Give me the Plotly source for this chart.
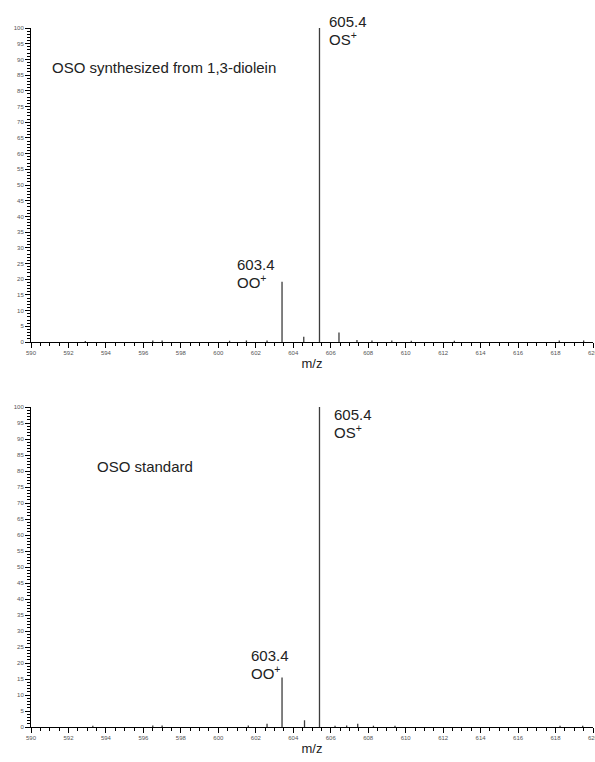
import plotly.graph_objects as go

# ---- data ----
top_mz = [592.9, 596.5, 597.0, 600.6, 601.5, 602.6, 603.4, 604.56, 605.4, 606.44,
          607.4, 608.2, 609.26, 610.3, 612.6, 618.2, 619.5]
top_int = [0.3, 0.5, 0.5, 0.4, 0.5, 0.5, 19.2, 1.7, 100, 3.0,
           0.6, 0.5, 0.5, 0.4, 0.4, 0.5, 0.5]

bot_mz = [593.3, 596.5, 597.0, 601.6, 602.6, 603.4, 604.6, 605.4, 606.23, 606.85,
          607.44, 608.28, 609.43, 618.24, 619.45]
bot_int = [0.4, 0.5, 0.5, 0.5, 1.0, 15.5, 2.1, 100, 0.4, 0.5,
           1.0, 0.4, 0.4, 0.4, 0.4]

x_ticks = list(range(590, 621, 2))
y_ticks = list(range(0, 101, 5))
titles = ["OSO synthesized from 1,3-diolein", "OSO standard"]


def stems(xs, ys):
    X, Y = [], []
    for x, y in zip(xs, ys):
        X += [x, x, None]
        Y += [0, y, None]
    return X, Y


fig = go.Figure()
tx, ty = stems(top_mz, top_int)
bx, by = stems(bot_mz, bot_int)
fig.add_trace(go.Scatter(x=tx, y=ty, mode="lines", line=dict(color="#3c3c3c", width=1.3),
                         xaxis="x", yaxis="y", showlegend=False, hoverinfo="skip"))
fig.add_trace(go.Scatter(x=bx, y=by, mode="lines", line=dict(color="#3c3c3c", width=1.3),
                         xaxis="x2", yaxis="y2", showlegend=False, hoverinfo="skip"))

tickfont = dict(family="Liberation Sans, Arial, sans-serif", size=6, color="#555")
xcommon = dict(range=[590, 620], tickvals=x_ticks, showline=True, linecolor="black",
               linewidth=1, ticks="outside", ticklen=5, tickwidth=1, tickcolor="black",
               showgrid=False, zeroline=False, tickfont=tickfont,
               ticklabeloverflow="allow", automargin=False,
               minor=dict(dtick=0.5, tick0=590, ticks="outside", ticklen=3, tickcolor="black",
                          showgrid=False),
               title=dict(text="m/z", font=dict(family="Liberation Sans, Arial, sans-serif",
                                                size=13, color="#222"), standoff=3))
ycommon = dict(range=[0, 100], tickvals=y_ticks, showline=True, linecolor="black",
               linewidth=1, ticks="outside", ticklen=5, tickwidth=1, tickcolor="black",
               showgrid=False, zeroline=False, tickfont=tickfont, automargin=False,
               minor=dict(dtick=1, tick0=0, ticks="outside", ticklen=3, tickcolor="black",
                          showgrid=False))

H = 762
t, b = 28, 35
ph = H - t - b
top_dom = [(H - b - 342) / ph, 1.0]
bot_dom = [0.0, (H - b - 407) / ph]

fig.update_layout(
    width=595, height=762,
    margin=dict(l=31, r=2, t=t, b=b, autoexpand=False),
    paper_bgcolor="white", plot_bgcolor="white",
    xaxis=dict(xcommon, anchor="y"),
    yaxis=dict(ycommon, domain=top_dom, anchor="x"),
    xaxis2=dict(xcommon, anchor="y2"),
    yaxis2=dict(ycommon, domain=bot_dom, anchor="x2"),
    showlegend=False,
)

afont = dict(family="Liberation Sans, Arial, sans-serif", size=15, color="#222")
ann = [
    # top panel (y in fraction of the panel height)
    dict(x=591.0, y=0.873, xref="x", yref="y domain", text=titles[0]),
    dict(x=605.82, y=1.022, xref="x", yref="y domain", text="605.4"),
    dict(x=605.82, y=0.968, xref="x", yref="y domain", text="OS<sup>+</sup>"),
    dict(x=600.89, y=0.246, xref="x", yref="y domain", text="603.4"),
    dict(x=600.89, y=0.192, xref="x", yref="y domain", text="OO<sup>+</sup>"),
    # bottom panel
    dict(x=593.4, y=0.813, xref="x2", yref="y2 domain", text=titles[1]),
    dict(x=606.05, y=0.976, xref="x2", yref="y2 domain", text="605.4"),
    dict(x=606.05, y=0.924, xref="x2", yref="y2 domain", text="OS<sup>+</sup>"),
    dict(x=601.64, y=0.222, xref="x2", yref="y2 domain", text="603.4"),
    dict(x=601.64, y=0.170, xref="x2", yref="y2 domain", text="OO<sup>+</sup>"),
]
for a in ann:
    a.update(showarrow=False, xanchor="left", yanchor="middle", font=afont)
fig.update_layout(annotations=ann)

fig.write_html("out.html")
